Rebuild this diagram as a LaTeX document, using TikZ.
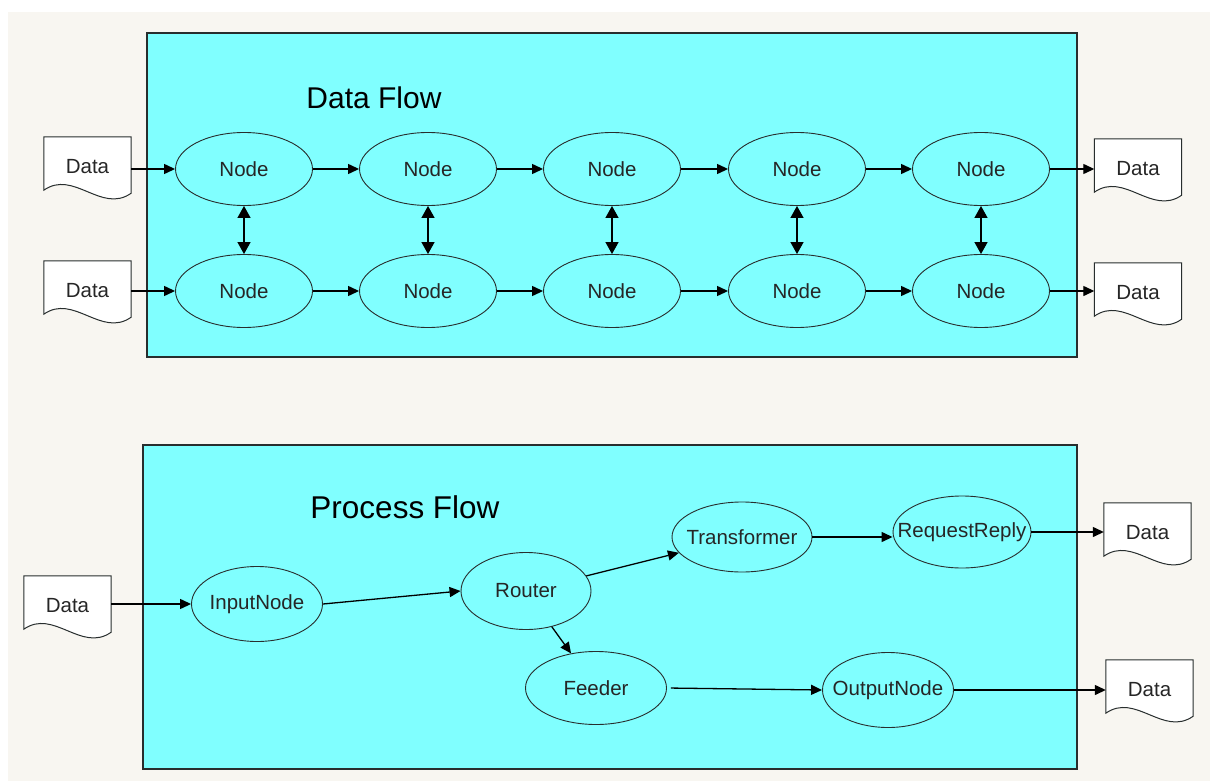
\documentclass[tikz,border=0pt]{standalone}
\usepackage{fontspec}
\setmainfont{Liberation Sans}
\usepackage{tikz}
\usetikzlibrary{shapes.geometric}
\usetikzlibrary{arrows.meta}
\usetikzlibrary{backgrounds}
\definecolor{flowcyan}{RGB}{128,255,255}
\definecolor{paper}{RGB}{248,246,241}
\definecolor{edge}{RGB}{40,46,46}
\newcommand{\labelfont}{\fontsize{20.5}{24}\selectfont}
\newcommand{\titlefont}{\fontsize{30}{36}\selectfont}
\newcommand{\snug}[1]{\makebox[0pt]{#1}}
\newcommand{\docoutline}[1]{\draw[docline] (#1.south west) -- (#1.north west) -- (#1.north east) -- ([yshift=-3pt]#1.south east) .. controls +(-30, 21) and +(30, -21) .. (#1.south west) -- cycle;}
\tikzstyle{flownode}=[ellipse, draw=edge, line width=0.9pt, inner sep=0, minimum width=137pt, minimum height=73pt, font=\labelfont, text=black!85]
\tikzstyle{datadoc}=[inner sep=0, minimum width=87pt, minimum height=53pt, text height=21pt, font=\labelfont, text=black!85]
\tikzstyle{docline}=[draw=edge, line width=1pt, fill=white]
\tikzstyle{panel}=[draw=edge, line width=1.3pt, fill=flowcyan]
\tikzstyle{flow}=[draw=black, line width=1.3pt, -{Triangle[length=11pt, width=10pt]}]
\tikzstyle{twoway}=[flow, {Triangle[length=12pt, width=13pt]}-{Triangle[length=12pt, width=13pt]}]
\tikzstyle{flowchart}=[x=1pt, y=-1pt]
\begin{document}
\begin{tikzpicture}[flowchart]
    \useasboundingbox (0, 0) rectangle (1210, 781);
    % Data flow
    \node[font=\titlefont] (dataflow) at (374, 98) {Data Flow};
    \node[datadoc] (inTop) at (87.5, 163.5) {Data};
    \node[datadoc] (inBot) at (87.5, 287.5) {Data};
    \node[datadoc] (outTop) at (1138, 165.5) {Data};
    \node[datadoc] (outBot) at (1138, 289.5) {Data};
    \node[flownode] (T1) at (244, 169) {Node};
    \node[flownode] (T2) at (428, 169) {Node};
    \node[flownode] (T3) at (612, 169) {Node};
    \node[flownode] (T4) at (797, 169) {Node};
    \node[flownode] (T5) at (981, 169) {Node};
    \node[flownode] (B1) at (244, 291) {Node};
    \node[flownode] (B2) at (428, 291) {Node};
    \node[flownode] (B3) at (612, 291) {Node};
    \node[flownode] (B4) at (797, 291) {Node};
    \node[flownode] (B5) at (981, 291) {Node};
    \draw[flow] (inTop.east |- T1.west) -- (T1.west);
    \draw[flow] (inBot.east |- B1.west) -- (B1.west);
    \draw[flow] (T1) -- (T2);
    \draw[flow] (T2) -- (T3);
    \draw[flow] (T3) -- (T4);
    \draw[flow] (T4) -- (T5);
    \draw[flow] (B1) -- (B2);
    \draw[flow] (B2) -- (B3);
    \draw[flow] (B3) -- (B4);
    \draw[flow] (B4) -- (B5);
    \draw[twoway] (T1) -- (B1);
    \draw[twoway] (T2) -- (B2);
    \draw[twoway] (T3) -- (B3);
    \draw[twoway] (T4) -- (B4);
    \draw[twoway] (T5) -- (B5);
    \draw[flow] (T5.east) -- (outTop.west |- T5.east);
    \draw[flow] (B5.east) -- (outBot.west |- B5.east);
    % Process flow
    \node[font=\fontsize{31.5}{36}\selectfont] (processflow) at (405, 507) {Process Flow};
    \node[datadoc] (inData) at (67.5, 602.5) {Data};
    \node[datadoc] (replyData) at (1147.5, 529.5) {Data};
    \node[datadoc] (outData) at (1149.5, 686.5) {Data};
    \node[flownode, minimum width=131pt, minimum height=75pt] (input) at (257, 604) {\snug{InputNode}};
    \node[flownode, minimum width=130pt, minimum height=77pt] (router) at (526, 591) {\snug{Router}};
    \node[flownode, minimum width=140pt, minimum height=70pt] (transformer) at (742, 537) {\snug{Transformer}};
    \node[flownode, minimum width=138pt, minimum height=72pt] (reply) at (962, 532) {\snug{RequestReply}};
    \node[flownode, minimum width=141pt, minimum height=73pt] (feeder) at (596, 688) {\snug{Feeder}};
    \node[flownode, minimum width=131pt, minimum height=75pt] (output) at (888, 690) {\snug{OutputNode}};
    \draw[flow] (inData.east |- input.west) -- (input.west);
    \draw[flow] (input.east) -- (router.west);
    \draw[flow] (router) -- (transformer);
    \draw[flow] (router) -- (feeder);
    \draw[flow] (transformer.east) -- (reply.west |- transformer.east);
    \draw[flow] (reply.east) -- (replyData.west |- reply.east);
    \draw[flow, shorten <=4pt] (feeder.east) -- (output.west);
    \draw[flow] (output.east) -- (outData.west |- output.east);
    \begin{pgfonlayer}{background}
        \fill[white] (0, 0) rectangle (1210, 781);
        \fill[paper] (8, 12) rectangle (1210, 781);
        \draw[panel] (147, 33) rectangle (1077, 357);
        \draw[panel] (143, 445) rectangle (1077, 769);
        \docoutline{inTop}
        \docoutline{inBot}
        \docoutline{outTop}
        \docoutline{outBot}
        \docoutline{inData}
        \docoutline{replyData}
        \docoutline{outData}
    \end{pgfonlayer}
\end{tikzpicture}
\end{document}
